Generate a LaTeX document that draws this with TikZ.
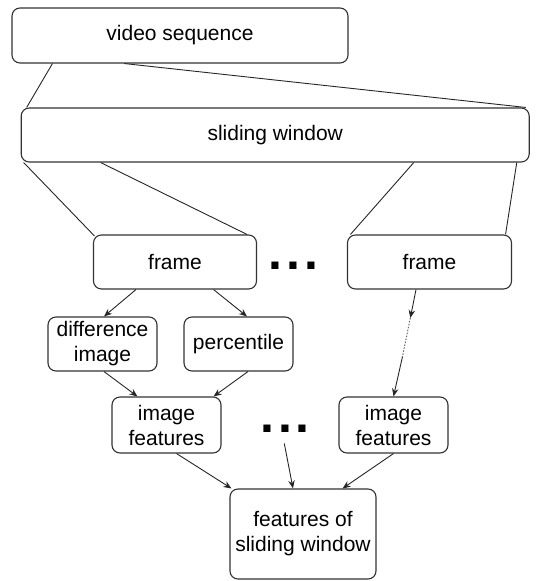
\documentclass[tikz,border=0pt]{standalone}
\usepackage{fontspec}
\setmainfont{Liberation Sans}
\usetikzlibrary{arrows.meta}

\begin{document}
\begin{tikzpicture}[x=1pt,y=-1pt,>={Stealth[length=8pt,width=6.5pt]},
  blk/.style={draw=black!80,line width=1.1pt,rounded corners=8pt,align=center,inner sep=0pt,font=\fontsize{21}{25}\selectfont},
  ln/.style={draw=black!85,line width=0.9pt},
  more/.style={inner sep=0pt,anchor=base,font=\fontsize{50}{50}\selectfont\bfseries}]
\useasboundingbox (0,0) rectangle (536,581);
% boxes
\node[blk,minimum width=336pt,minimum height=55pt] (seq) at (180,35.5) {video sequence};
\node[blk,minimum width=508pt,minimum height=54pt] (win) at (275.2,135) {sliding window};
\node[blk,minimum width=163pt,minimum height=54pt] (f1) at (175,262) {frame};
\node[blk,minimum width=164pt,minimum height=54pt] (f2) at (429.5,262) {frame};
\node[blk,minimum width=109pt,minimum height=54pt] (diff) at (102.5,344) {difference\\image};
\node[blk,minimum width=109pt,minimum height=54pt] (pct) at (238.5,344) {percentile};
\node[blk,minimum width=109pt,minimum height=56pt] (im1) at (166.5,425) {image\\features};
\node[blk,minimum width=109pt,minimum height=56pt] (im2) at (393.5,425) {image\\features};
\node[blk,minimum width=146pt,minimum height=90pt] (out) at (303,534) {features of\\sliding window};
\node[more] (d1) at (293.5,269) {.\kern4pt.\kern4pt.};
\node[more] (d2) at (285,432.5) {.\kern4pt.\kern4pt.};
% window and frames
\draw[ln] ([xshift=41pt]seq.south west) -- ([xshift=6pt]win.north west);
\draw[ln] ([xshift=113pt]seq.south west) -- ([xshift=-4pt]win.north east);
\draw[ln] ([xshift=3pt]win.south west) -- ([xshift=1.5pt,yshift=-1.5pt]f1.north west);
\draw[ln] ([xshift=80pt]win.south west) -- ([xshift=-10pt]f1.north east);
\draw[ln] ([xshift=-116pt]win.south east) -- ([xshift=3.5pt]f2.north west);
\draw[ln] ([xshift=-13pt]win.south east) -- ([xshift=-6.5pt]f2.north east);
% per frame
\draw[ln,->] ([xshift=43pt]f1.south west) -- ([xshift=1.5pt]diff.north);
\draw[ln,->] ([xshift=-43.5pt]f1.south east) -- ([xshift=8.5pt]pct.north);
\draw[ln,->] ([xshift=1.5pt]diff.south) -- ([xshift=26pt]im1.north west);
\draw[ln,->] ([xshift=9.5pt]pct.south) -- ([xshift=-8pt]im1.north east);
\coordinate (gapA) at (410.3,318);
\coordinate (gapB) at (402.4,357);
\draw[ln,->] ([xshift=-13.5pt]f2.south) -- (gapA);
\draw[draw=black!60,line width=1pt,dash pattern=on 1.5pt off 1.5pt] (gapA) -- (gapB);
\draw[ln,->] (gapB) -- (im2.north);
% into the window features
\draw[ln,->] ([xshift=-45pt]im1.south east) -- ([xshift=2pt]out.north west);
\draw[ln,->] ([xshift=-0.7pt,yshift=-11pt]d2.base) -- ([xshift=-10pt]out.north);
\draw[ln,->] (im2.south) -- ([xshift=-34pt]out.north east);
\end{tikzpicture}
\end{document}
